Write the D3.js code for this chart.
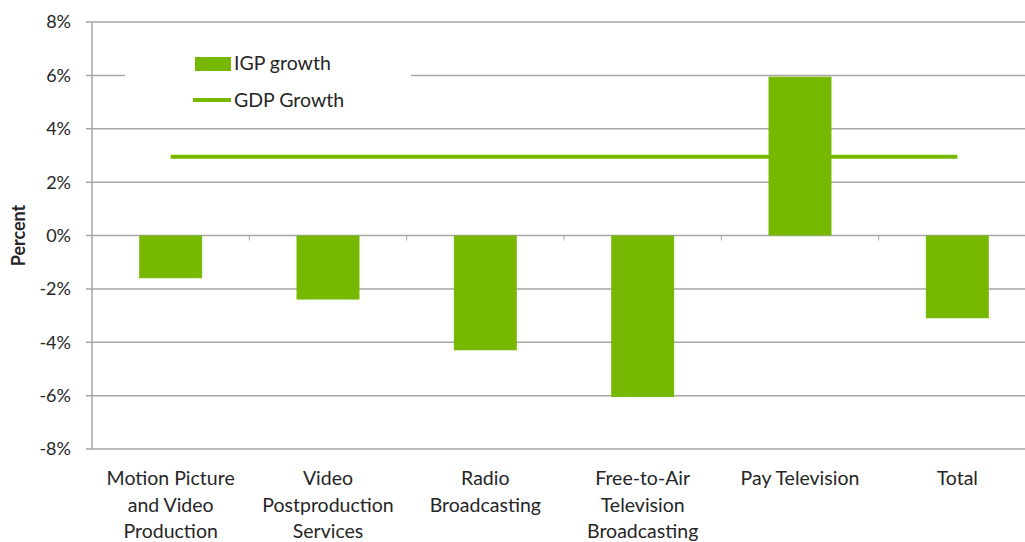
<!DOCTYPE html>
<html>
<head>
<meta charset="utf-8">
<script src="https://cdn.jsdelivr.net/npm/d3@7"></script>
<style>
  body { margin: 0; background: #fff; }
  text { font-family: Lato, "Open Sans", sans-serif; fill: #262626; }
</style>
</head>
<body>
<div id="chart"></div>
<script>
// data
let categories = [
  ["Motion Picture", "and Video", "Production"],
  ["Video", "Postproduction", "Services"],
  ["Radio", "Broadcasting"],
  ["Free-to-Air", "Television", "Broadcasting"],
  ["Pay Television"],
  ["Total"]
];
let igpGrowth = [-1.6, -2.4, -4.3, -6.05, 5.95, -3.1];
let gdpGrowth = [2.95, 2.95, 2.95, 2.95, 2.95, 2.95];
let yTicks = [-8, -6, -4, -2, 0, 2, 4, 6, 8];
let legendLabels = ["IGP growth", "GDP Growth"];

let green = "#77b800";
let width = 1025, height = 542;
let plotLeft = 92, plotRight = 1036, plotTop = 22, plotBottom = 449;

let svg = d3.select("#chart").append("svg")
  .attr("width", width)
  .attr("height", height);

let x = d3.scaleBand()
  .domain(d3.range(categories.length))
  .range([plotLeft, plotRight])
  .paddingInner(0.6)
  .paddingOuter(0.3);

let xc = i => x(i) + x.bandwidth() / 2;

let y = d3.scaleLinear()
  .domain([-8, 8])
  .range([plotBottom, plotTop]);

// gridlines
svg.append("g")
  .selectAll("line")
  .data(yTicks)
  .enter().append("line")
  .attr("x1", plotLeft - 6)
  .attr("x2", plotRight)
  .attr("y1", d => y(d))
  .attr("y2", d => y(d))
  .attr("stroke", "#a6a6a6")
  .attr("stroke-width", 1.5);

// y axis line
svg.append("line")
  .attr("x1", plotLeft).attr("x2", plotLeft)
  .attr("y1", plotTop).attr("y2", plotBottom)
  .attr("stroke", "#a6a6a6")
  .attr("stroke-width", 1.5);

// y tick labels
svg.append("g")
  .selectAll("text")
  .data(yTicks)
  .enter().append("text")
  .attr("x", 71)
  .attr("y", d => y(d))
  .attr("dy", "0.36em")
  .attr("text-anchor", "end")
  .style("font-size", "18px")
  .text(d => d + "%");

// small category ticks on the zero line
svg.append("g")
  .selectAll("line")
  .data(d3.range(1, categories.length))
  .enter().append("line")
  .attr("x1", i => plotLeft + i * x.step())
  .attr("x2", i => plotLeft + i * x.step())
  .attr("y1", y(0))
  .attr("y2", y(0) + 5)
  .attr("stroke", "#a6a6a6");

// bars
svg.append("g")
  .selectAll("rect")
  .data(igpGrowth)
  .enter().append("rect")
  .attr("x", (d, i) => x(i))
  .attr("width", x.bandwidth())
  .attr("y", d => y(Math.max(0, d)))
  .attr("height", d => Math.abs(y(d) - y(0)))
  .attr("fill", green);

// GDP growth line
let line = d3.line()
  .x((d, i) => xc(i))
  .y(d => y(d));

svg.append("path")
  .datum(gdpGrowth)
  .attr("d", line)
  .attr("fill", "none")
  .attr("stroke", green)
  .attr("stroke-width", 4);

// category labels
let catG = svg.append("g")
  .selectAll("text")
  .data(categories)
  .enter().append("text")
  .attr("x", (d, i) => xc(i))
  .attr("y", 485)
  .attr("text-anchor", "middle")
  .style("font-size", "19.5px");

catG.selectAll("tspan")
  .data(d => d)
  .enter().append("tspan")
  .attr("x", function () { return this.parentNode.getAttribute("x"); })
  .attr("dy", (d, i) => i == 0 ? 0 : 26.5)
  .text(d => d);

// y axis title
svg.append("text")
  .attr("transform", "translate(25," + y(0) + ") rotate(-90)")
  .attr("text-anchor", "middle")
  .style("font-size", "18px")
  .style("font-weight", "bold")
  .text("Percent");

// legend
let legend = svg.append("g");
legend.append("rect")
  .attr("x", 125).attr("y", 44)
  .attr("width", 286).attr("height", 72)
  .attr("fill", "#fff");

legend.append("rect")
  .attr("x", 195).attr("y", 57)
  .attr("width", 36).attr("height", 14)
  .attr("fill", green);

legend.append("line")
  .attr("x1", 193).attr("x2", 231)
  .attr("y1", 100).attr("y2", 100)
  .attr("stroke", green)
  .attr("stroke-width", 4);

legend.selectAll("text")
  .data(legendLabels)
  .enter().append("text")
  .attr("x", 234)
  .attr("y", (d, i) => 63 + i * 37)
  .attr("dy", "0.36em")
  .style("font-size", "19.5px")
  .text(d => d);
</script>
</body>
</html>
